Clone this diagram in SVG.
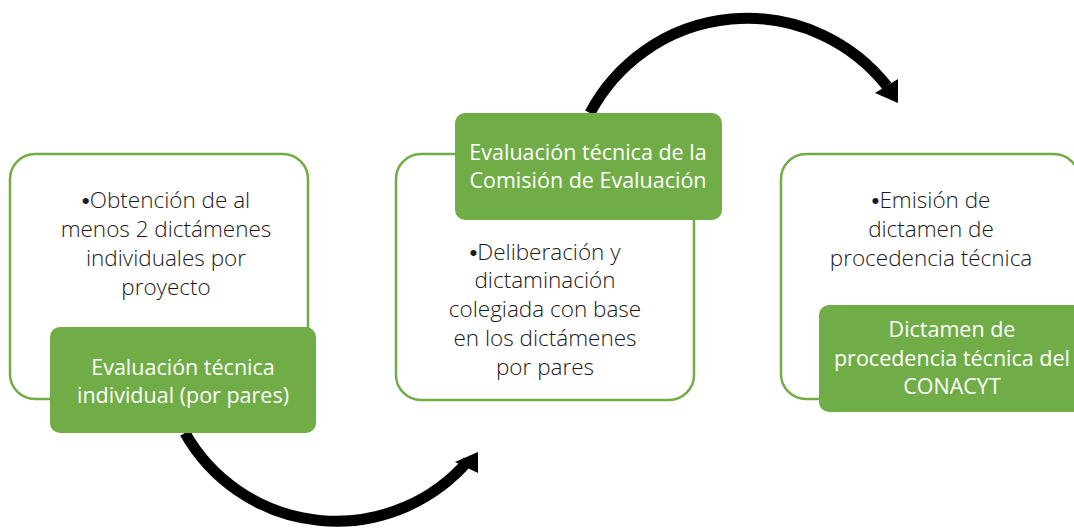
<svg xmlns="http://www.w3.org/2000/svg" width="1074" height="529" viewBox="0 0 1074 529">
<style>
.outer{fill:#FFFFFF;stroke:#70AD47;stroke-width:2.5}
.inner{fill:#70AD47;stroke:none}
.t{font-family:"Open Sans","Liberation Sans",sans-serif;font-weight:300;font-size:22.5px;fill:#1a1a1a;text-anchor:middle}
.w{font-family:"Open Sans","Liberation Sans",sans-serif;font-weight:400;font-size:21.5px;fill:#FFFFFF;text-anchor:middle}
.b{font-family:"Liberation Sans",sans-serif;font-weight:400}
.arc{fill:none;stroke:#000000;stroke-width:11}
</style>
<rect width="1074" height="529" fill="#FFFFFF"/>
<g id="connectors">
<path class="arc" d="M185,433 A174,174 0 0 0 468,461"/>
<polygon points="455,462 478,452 478,473" fill="#000000"/>
<path class="arc" d="M590,113 A178,178 0 0 1 887,86"/>
<polygon points="875,93 898,79 898,103" fill="#000000"/>
</g>
<g id="node1">
<rect class="outer" x="10" y="154" width="298" height="245" rx="25"/>
<text class="t" x="166" y="208"><tspan class="b">•</tspan>Obtención de al</text>
<text class="t" x="166" y="237">menos 2 dictámenes</text>
<text class="t" x="166" y="266">individuales por</text>
<text class="t" x="166" y="295">proyecto</text>
<rect class="inner" x="50" y="327" width="266" height="106" rx="10"/>
<text class="w" x="183" y="375">Evaluación técnica</text>
<text class="w" x="183" y="403">individual (por pares)</text>
</g>
<g id="node2">
<rect class="outer" x="396" y="154" width="298" height="246" rx="25"/>
<rect class="inner" x="455" y="113" width="267" height="107" rx="10"/>
<text class="w" x="588" y="160">Evaluación técnica de la</text>
<text class="w" x="588" y="188">Comisión de Evaluación</text>
<text class="t" x="545" y="260"><tspan class="b">•</tspan>Deliberación y</text>
<text class="t" x="545" y="288">dictaminación</text>
<text class="t" x="545" y="317">colegiada con base</text>
<text class="t" x="545" y="346">en los dictámenes</text>
<text class="t" x="545" y="375">por pares</text>
</g>
<g id="node3">
<rect class="outer" x="781" y="154" width="298" height="245" rx="25"/>
<text class="t" x="931" y="208"><tspan class="b">•</tspan>Emisión de</text>
<text class="t" x="931" y="237">dictamen de</text>
<text class="t" x="931" y="266">procedencia técnica</text>
<rect class="inner" x="819" y="305" width="267" height="107" rx="10"/>
<text class="w" x="952" y="337">Dictamen de</text>
<text class="w" x="952" y="366">procedencia técnica del</text>
<text class="w" x="952" y="394">CONACYT</text>
</g>
</svg>
